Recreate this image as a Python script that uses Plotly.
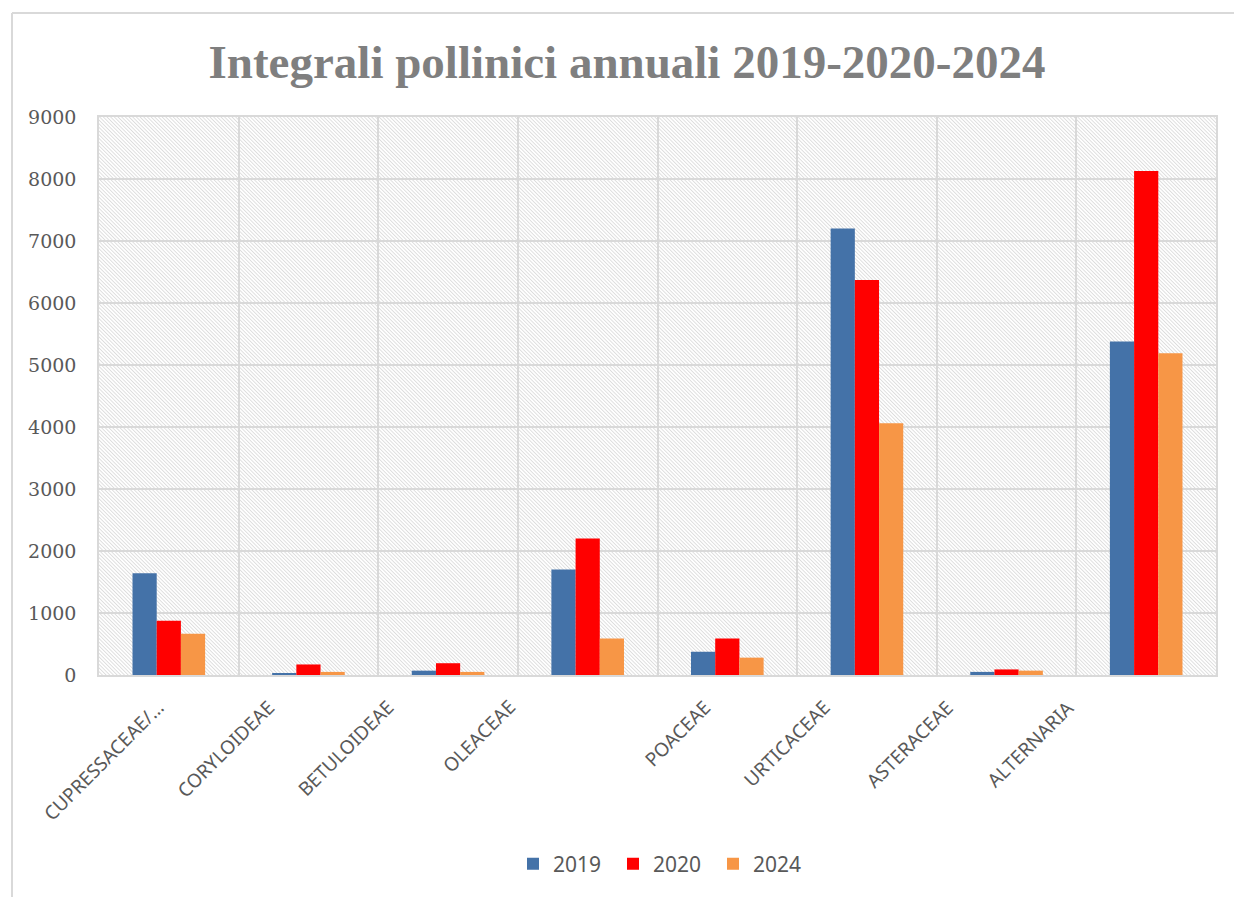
import base64
import plotly.graph_objects as go

# ---- data ----
categories = ["CUPRESSACEAE/…", "CORYLOIDEAE", "BETULOIDEAE", "OLEACEAE",
              "POACEAE", "URTICACEAE", "ASTERACEAE", "ALTERNARIA"]
years = ["2019", "2020", "2024"]
v2019 = [1640, 25, 70, 1700, 375, 7200, 50, 5380]
v2020 = [875, 170, 190, 2200, 590, 6370, 90, 8130]
v2024 = [665, 50, 50, 590, 280, 4060, 70, 5190]
y_ticks = [0, 1000, 2000, 3000, 4000, 5000, 6000, 7000, 8000, 9000]

# ---- style ----
colors = ["#4472A8", "#FF0000", "#F79646"]
W, H = 1234, 897
ML, MR, MT, MB = 99, 18, 117, 222
PW, PH = W - ML - MR, H - MT - MB
label_dx = [0, -30, -50, -68, -12, -32, -49, -68]  # Excel-like label placement

fig = go.Figure()
for name, vals, col in zip(years, [v2019, v2020, v2024], colors):
    fig.add_trace(go.Bar(x=categories, y=vals, name=name,
                         marker=dict(color=col, line=dict(width=0))))

# hatched plot background as a texture image
svg = f'''<svg xmlns="http://www.w3.org/2000/svg" width="{PW}" height="{PH}">
<defs><pattern id="p" width="2.6" height="2.6" patternUnits="userSpaceOnUse" patternTransform="rotate(-45)">
<line x1="0.5" y1="0" x2="0.5" y2="2.6" stroke="#d4d4d4" stroke-width="0.75"/></pattern></defs>
<rect width="{PW}" height="{PH}" fill="#ffffff"/>
<rect width="{PW}" height="{PH}" fill="url(#p)"/></svg>'''
uri = "data:image/svg+xml;base64," + base64.b64encode(svg.encode()).decode()

annotations = []
for cat, dx in zip(categories, label_dx):
    annotations.append(dict(x=cat, xref="x", y=-0.03, yref="paper", text=cat,
                            showarrow=False, textangle=-45, xanchor="right",
                            yanchor="top", xshift=dx + 4,
                            font=dict(family="Noto Sans", size=19, color="#595959")))

fig.update_layout(
    width=W, height=H,
    margin=dict(l=ML, r=MR, t=MT, b=MB, pad=0),
    paper_bgcolor="white",
    plot_bgcolor="rgba(0,0,0,0)",
    barmode="group", bargap=0.48, bargroupgap=0,
    title=dict(text="<b>Integrali pollinici annuali 2019-2020-2024</b>",
               xref="container", x=627 / W, xanchor="center",
               yref="container", y=1 - 62 / H, yanchor="middle",
               font=dict(family="Liberation Serif", size=47, color="#7F7F7F")),
    xaxis=dict(type="category", range=[-0.5, len(categories) - 0.5],
               tickson="boundaries", showgrid=True,
               gridcolor="#D9D9D9", gridwidth=1.5, showticklabels=False,
               ticks="", showline=True, linecolor="#D9D9D9", linewidth=1.5,
               mirror=True, zeroline=False),
    yaxis=dict(range=[0, y_ticks[-1]], tickvals=y_ticks, showgrid=True,
               gridcolor="#D9D9D9", gridwidth=1.5, ticks="",
               ticklabelstandoff=17, showline=True, linecolor="#D9D9D9",
               linewidth=1.5, mirror=True, zeroline=False,
               tickfont=dict(family="DejaVu Serif", size=19, color="#595959")),
    legend=dict(orientation="h", xref="paper", x=(663 - ML) / PW, xanchor="center",
                yref="paper", y=(MT + PH - 864) / PH, yanchor="middle",
                font=dict(family="Noto Sans", size=21, color="#595959"),
                entrywidth=55, bgcolor="rgba(0,0,0,0)"),
    annotations=annotations,
    images=[dict(source=uri, xref="paper", yref="paper", x=0, y=1,
                 sizex=1, sizey=1, sizing="stretch", layer="below",
                 xanchor="left", yanchor="top")],
    shapes=[
        dict(type="line", xref="paper", yref="paper",
             x0=(12 - ML) / PW, x1=1.05, y0=(MT + PH - 13) / PH, y1=(MT + PH - 13) / PH,
             line=dict(color="#D9D9D9", width=2)),
        dict(type="line", xref="paper", yref="paper",
             x0=(12 - ML) / PW, x1=(12 - ML) / PW, y0=-0.5, y1=(MT + PH - 13) / PH,
             line=dict(color="#D9D9D9", width=2)),
    ],
)

fig.write_html("out.html")
